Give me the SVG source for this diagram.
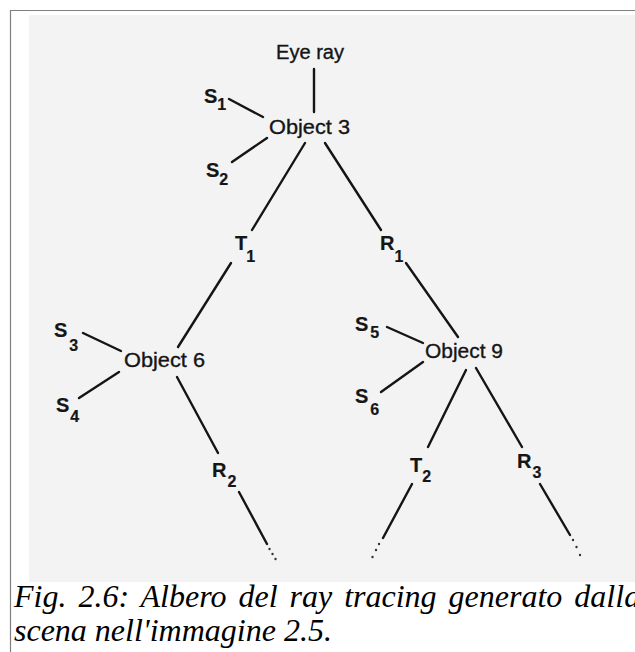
<svg xmlns="http://www.w3.org/2000/svg" width="635" height="652" viewBox="0 0 635 652">
<style>
.lbl{font-family:"Liberation Sans",Arial,sans-serif;font-size:20px;fill:#151515;stroke:#151515;stroke-width:0.35}
.obj{font-size:21px}
.b{font-weight:bold;font-size:20px;stroke-width:0.2}
.sub{font-size:16px;font-weight:bold}
.cap{font-family:"Liberation Serif","Times New Roman",serif;font-style:italic;font-size:32px;fill:#000}
.edge{stroke:#151515;stroke-width:2.4;fill:none;stroke-linecap:round}
.dot{fill:#333}
</style>
<rect x="0" y="0" width="635" height="652" fill="#fff"/>
<rect x="29" y="15" width="606" height="567" fill="#f3f3f3"/>
<path d="M10.5 652 V10.5 H635" fill="none" stroke="#808080" stroke-width="1.2"/>
<g id="connectors">
<line class="edge" x1="314" y1="69" x2="314" y2="112"/>
<line class="edge" x1="229" y1="99" x2="263" y2="117"/>
<line class="edge" x1="267" y1="138" x2="232" y2="162"/>
<line class="edge" x1="305" y1="143" x2="252" y2="230"/>
<line class="edge" x1="325" y1="143" x2="381" y2="230"/>
<line class="edge" x1="231" y1="263" x2="178" y2="347"/>
<line class="edge" x1="406" y1="263" x2="458" y2="337"/>
<line class="edge" x1="83" y1="333" x2="121" y2="351"/>
<line class="edge" x1="119" y1="372" x2="79" y2="398"/>
<line class="edge" x1="177" y1="377" x2="218" y2="453"/>
<line class="edge" x1="239" y1="492" x2="267" y2="544"/>
<line class="edge" x1="387" y1="327" x2="423" y2="343"/>
<line class="edge" x1="423" y1="362" x2="381" y2="392"/>
<line class="edge" x1="466" y1="370" x2="428" y2="447"/>
<line class="edge" x1="476" y1="368" x2="522" y2="447"/>
<line class="edge" x1="412" y1="484" x2="383" y2="538"/>
<line class="edge" x1="540" y1="484" x2="570" y2="535"/>
<circle class="dot" cx="269.5" cy="549" r="1.2"/>
<circle class="dot" cx="272.5" cy="554" r="1.2"/>
<circle class="dot" cx="275.5" cy="559" r="1.2"/>
<circle class="dot" cx="379" cy="544" r="1.2"/>
<circle class="dot" cx="376" cy="550" r="1.2"/>
<circle class="dot" cx="372.5" cy="557" r="1.2"/>
<circle class="dot" cx="573" cy="540" r="1.2"/>
<circle class="dot" cx="576.5" cy="547" r="1.2"/>
<circle class="dot" cx="580" cy="555" r="1.2"/>
</g>
<g id="eye-ray"><text class="lbl" x="276" y="59" textLength="68" lengthAdjust="spacingAndGlyphs">Eye ray</text></g>
<g id="object3"><text class="lbl obj" x="269" y="134" textLength="81" lengthAdjust="spacingAndGlyphs">Object 3</text></g>
<g id="s1"><text class="lbl b" x="204" y="103">S<tspan class="sub" dx="0" dy="7">1</tspan></text></g>
<g id="s2"><text class="lbl b" x="206" y="177">S<tspan class="sub" dx="0" dy="8">2</tspan></text></g>
<g id="t1"><text class="lbl b" x="235" y="250">T<tspan class="sub" dx="-1" dy="12">1</tspan></text></g>
<g id="r1"><text class="lbl b" x="380" y="250">R<tspan class="sub" dx="0" dy="12">1</tspan></text></g>
<g id="object6"><text class="lbl obj" x="124" y="367" textLength="81" lengthAdjust="spacingAndGlyphs">Object 6</text></g>
<g id="s3"><text class="lbl b" x="54" y="337">S<tspan class="sub" dx="2" dy="14">3</tspan></text></g>
<g id="s4"><text class="lbl b" x="56" y="412">S<tspan class="sub" dx="1" dy="10">4</tspan></text></g>
<g id="r2"><text class="lbl b" x="212" y="477">R<tspan class="sub" dx="1" dy="10">2</tspan></text></g>
<g id="object9"><text class="lbl obj" x="425" y="358" textLength="78" lengthAdjust="spacingAndGlyphs">Object 9</text></g>
<g id="s5"><text class="lbl b" x="355" y="331">S<tspan class="sub" dx="2" dy="7">5</tspan></text></g>
<g id="s6"><text class="lbl b" x="355" y="403">S<tspan class="sub" dx="2" dy="12">6</tspan></text></g>
<g id="t2"><text class="lbl b" x="410" y="472">T<tspan class="sub" dx="0" dy="10">2</tspan></text></g>
<g id="r3"><text class="lbl b" x="517" y="468">R<tspan class="sub" dx="1" dy="10">3</tspan></text></g>
<g id="caption">
<text class="cap" x="14" y="607" word-spacing="4">Fig. 2.6: Albero del ray tracing generato dalla</text>
<text class="cap" x="14" y="641">scena nell'immagine 2.5.</text>
</g>
</svg>
